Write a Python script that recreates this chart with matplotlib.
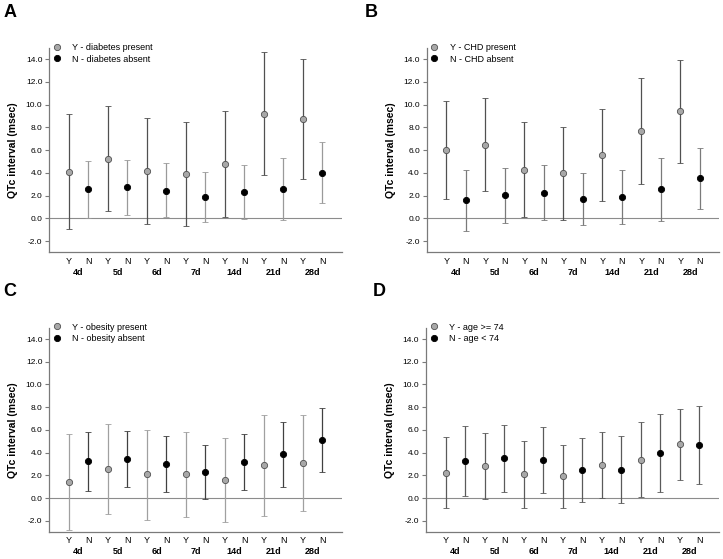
import numpy as np
import matplotlib.pyplot as plt
from matplotlib.lines import Line2D

plt.rcParams['font.family'] = ['Liberation Sans', 'DejaVu Sans']

days = ['4d', '5d', '6d', '7d', '14d', '21d', '28d']

# A - diabetes
a_y_mean = [4.1, 5.25, 4.14, 3.87, 4.78, 9.21, 8.78]
a_y_hi = [9.16, 9.89, 8.8, 8.45, 9.42, 14.6, 14.06]
a_y_lo = [-0.97, 0.62, -0.53, -0.7, 0.15, 3.85, 3.49]
a_n_mean = [2.55, 2.73, 2.44, 1.9, 2.3, 2.6, 4.02]
a_n_hi = [5.05, 5.1, 4.84, 4.1, 4.67, 5.28, 6.69]
a_n_lo = [0.0, 0.32, 0.09, -0.35, -0.03, -0.15, 1.38]

# B - CHD
b_y_mean = [5.99, 6.49, 4.26, 3.96, 5.55, 7.69, 9.42]
b_y_hi = [10.33, 10.6, 8.45, 8.01, 9.66, 12.33, 13.97]
b_y_lo = [1.7, 2.38, 0.09, -0.12, 1.5, 3.02, 4.87]
b_n_mean = [1.58, 2.03, 2.26, 1.7, 1.85, 2.58, 3.52]
b_n_hi = [4.26, 4.46, 4.7, 3.99, 4.29, 5.28, 6.22]
b_n_lo = [-1.09, -0.44, -0.18, -0.62, -0.53, -0.26, 0.79]

# C - obesity
c_y_mean = [1.41, 2.56, 2.09, 2.12, 1.59, 2.88, 3.06]
c_y_hi = [5.6, 6.51, 6.01, 5.81, 5.33, 7.34, 7.28]
c_y_lo = [-2.8, -1.44, -1.89, -1.65, -2.12, -1.59, -1.18]
c_n_mean = [3.27, 3.45, 3.04, 2.3, 3.18, 3.86, 5.15]
c_n_hi = [5.86, 5.9, 5.45, 4.63, 5.66, 6.72, 7.96]
c_n_lo = [0.65, 0.97, 0.56, -0.06, 0.71, 0.97, 2.3]

# D - age
d_y_mean = [2.25, 2.8, 2.1, 1.93, 2.94, 3.38, 4.76]
d_y_hi = [5.4, 5.7, 5.0, 4.67, 5.86, 6.69, 7.87]
d_y_lo = [-0.9, -0.05, -0.86, -0.9, 0.04, 0.07, 1.6]
d_n_mean = [3.25, 3.5, 3.35, 2.48, 2.48, 3.98, 4.66]
d_n_hi = [6.35, 6.45, 6.3, 5.25, 5.43, 7.43, 8.1]
d_n_lo = [0.15, 0.5, 0.45, -0.33, -0.47, 0.52, 1.22]

legend_a = ['Y - diabetes present', 'N - diabetes absent']
legend_b = ['Y - CHD present', 'N - CHD absent']
legend_c = ['Y - obesity present', 'N - obesity absent']
legend_d = ['Y - age >= 74', 'N - age < 74']

GRAY_FACE = '#a8a8a8'
AXIS_COL = '#7a7a7a'


def draw_panel(ax, y_mean, y_hi, y_lo, n_mean, n_hi, n_lo, labels, ycol, ncol):
    xs_y = np.arange(len(days)) * 2
    xs_n = xs_y + 1
    y_mean, y_hi, y_lo = map(np.array, (y_mean, y_hi, y_lo))
    n_mean, n_hi, n_lo = map(np.array, (n_mean, n_hi, n_lo))

    ax.axhline(0, color='#8c8c8c', lw=0.8, zorder=1)
    ax.errorbar(xs_y, y_mean, yerr=[y_mean - y_lo, y_hi - y_mean], fmt='o',
                ms=4.5, mfc=GRAY_FACE, mec='#505050', mew=0.6,
                ecolor=ycol, elinewidth=0.9, capsize=2.2, capthick=0.9, zorder=3)
    ax.errorbar(xs_n, n_mean, yerr=[n_mean - n_lo, n_hi - n_mean], fmt='o',
                ms=4.5, mfc='black', mec='black', mew=0.6,
                ecolor=ncol, elinewidth=0.9, capsize=2.2, capthick=0.9, zorder=3)

    ax.set_xlim(-1, 14)
    ax.set_ylim(-3, 15)
    ax.set_yticks(np.arange(-2, 15, 2))
    ax.set_yticklabels(['%.1f' % v for v in np.arange(-2, 15, 2)])
    ax.set_xticks(np.arange(14))
    ax.set_xticklabels(['Y', 'N'] * len(days))
    for side in ['top', 'right']:
        ax.spines[side].set_visible(False)
    for side in ['left', 'bottom']:
        ax.spines[side].set_color(AXIS_COL)
        ax.spines[side].set_linewidth(0.9)
    ax.tick_params(axis='y', direction='out', length=3, width=0.8,
                   color=AXIS_COL, labelsize=6, pad=2)
    ax.tick_params(axis='x', length=0, labelsize=6.5, pad=3)
    ax.set_ylabel('QTc interval (msec)', fontsize=7.5, fontweight='bold', labelpad=5.5)

    for i, d in enumerate(days):
        ax.text(2 * i + 0.5, -0.096, d, transform=ax.get_xaxis_transform(),
                ha='center', va='center', fontsize=6.5, fontweight='bold')

    handles = [
        Line2D([], [], ls='none', marker='o', ms=4.5, mfc=GRAY_FACE, mec='#505050', mew=0.6),
        Line2D([], [], ls='none', marker='o', ms=4.5, mfc='black', mec='black', mew=0.6),
    ]
    ax.legend(handles, labels, loc='upper left', bbox_to_anchor=(0.01, 1.025),
              frameon=False, fontsize=6.5, borderpad=0, borderaxespad=0,
              handlelength=1.0, handletextpad=1.2, labelspacing=0.3)


fig = plt.figure(figsize=(7.23, 5.59), dpi=100)
w, h = 0.4044, 0.3658
ax_a = fig.add_axes([0.0682, 0.5485, w, h])
ax_b = fig.add_axes([0.5906, 0.5485, w, h])
ax_c = fig.add_axes([0.0682, 0.048, w, h])
ax_d = fig.add_axes([0.5896, 0.048, w, h])

draw_panel(ax_a, a_y_mean, a_y_hi, a_y_lo, a_n_mean, a_n_hi, a_n_lo, legend_a, '#505050', '#9a9a9a')
draw_panel(ax_b, b_y_mean, b_y_hi, b_y_lo, b_n_mean, b_n_hi, b_n_lo, legend_b, '#505050', '#7a7a7a')
draw_panel(ax_c, c_y_mean, c_y_hi, c_y_lo, c_n_mean, c_n_hi, c_n_lo, legend_c, '#a0a0a0', '#404040')
draw_panel(ax_d, d_y_mean, d_y_hi, d_y_lo, d_n_mean, d_n_hi, d_n_lo, legend_d, '#5a5a5a', '#5a5a5a')

for letter, x, y in [('A', 0.005, 0.993), ('B', 0.505, 0.993),
                     ('C', 0.005, 0.493), ('D', 0.515, 0.493)]:
    fig.text(x, y, letter, fontsize=13, fontweight='bold', ha='left', va='top')

fig.savefig('out.png', dpi=100)
